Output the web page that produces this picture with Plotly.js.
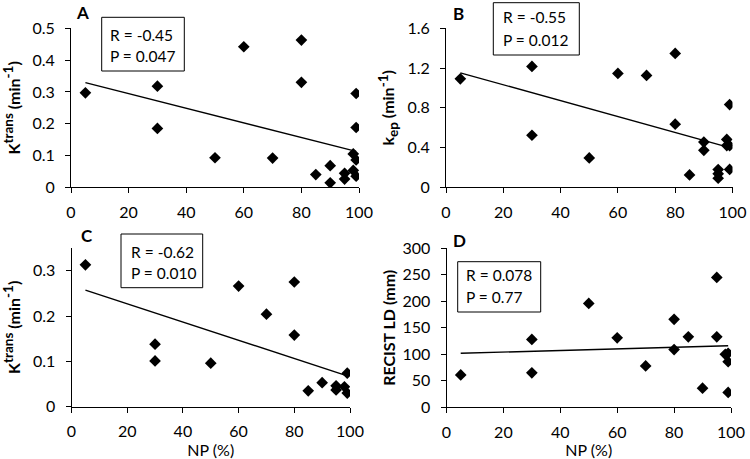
<!DOCTYPE html>
<html>
<head>
<meta charset="utf-8">
<script src="https://cdn.plot.ly/plotly-3.0.1.min.js"></script>
<style>html,body{margin:0;padding:0;background:#fff;}#chart{width:750px;height:459px;}</style>
</head>
<body>
<div id="chart"></div>
<script>
// ---- data ----
const npA = [5,30,30,50,60,70,80,80,85,90,90,95,95,98,98,99,99,99,99];
const ktransA = [0.297,0.318,0.185,0.093,0.442,0.092,0.463,0.330,0.040,0.068,0.014,0.044,0.026,0.105,0.053,0.295,0.188,0.086,0.035];
const fitXA = [5,99];
const fitYA = [0.329,0.113];

const npB = [5,30,30,50,60,70,80,80,85,90,90,95,95,95,98,98,99,99,99];
const kepB = [1.092,1.216,0.524,0.296,1.146,1.126,1.347,0.635,0.125,0.455,0.372,0.178,0.136,0.091,0.482,0.420,0.418,0.832,0.180];
const fitXB = [5,99];
const fitYB = [1.152,0.400];

const npC = [5,30,30,50,60,70,80,80,85,90,95,95,98,99,99];
const ktransC = [0.313,0.138,0.101,0.096,0.266,0.204,0.275,0.158,0.035,0.053,0.046,0.037,0.044,0.074,0.030];
const fitXC = [5,99];
const fitYC = [0.257,0.068];

const npD = [5,30,30,50,60,70,80,80,85,90,95,95,98,99,99,99];
const recistD = [61,128,65,196,131,78,166,109,133,36,245,133,100,102,86,28];
const fitXD = [5,99];
const fitYD = [102,116];

const panelLetters = ['A','B','C','D'];
const statR = ['R = -0.45','R = -0.55','R = -0.62','R = 0.078'];
const statP = ['P = 0.047','P = 0.012','P = 0.010','P = 0.77'];
const S = t => '<span style="font-size:13.5px">' + t + '</span>';
const yTitles = [
  'K<sup>' + S('trans') + '</sup> (min<sup>' + S('-1') + '</sup>)',
  'k<sub>' + S('ep') + '</sub> (min<sup>' + S('-1') + '</sup>)',
  'K<sup>' + S('trans') + '</sup> (min<sup>' + S('-1') + '</sup>)',
  'RECIST LD (mm)'
];
const xTitle = 'NP (%)';

// ---- layout helpers ----
const W = 750, H = 459;
const px = v => v / W;
const py = v => 1 - v / H;
const FONT = 'Lato, "Open Sans", sans-serif';

const sets = [[npA,ktransA,fitXA,fitYA],[npB,kepB,fitXB,fitYB],[npC,ktransC,fitXC,fitYC],[npD,recistD,fitXD,fitYD]];
const traces = [];
sets.forEach((s,i) => {
  const xa = i===0 ? 'x' : 'x'+(i+1);
  const ya = i===0 ? 'y' : 'y'+(i+1);
  traces.push({x:s[2], y:s[3], xaxis:xa, yaxis:ya, mode:'lines', type:'scatter',
    line:{color:'#000', width:1.4}, hoverinfo:'skip', showlegend:false});
  traces.push({x:s[0], y:s[1], xaxis:xa, yaxis:ya, mode:'markers', type:'scatter',
    marker:{symbol:'diamond', size:9, color:'#000'}, showlegend:false});
});

function xAxis(dom, anchor, showTitle){
  return {domain:dom, anchor:anchor, range:[0,100], tickvals:[0,20,40,60,80,100],
    showline:true, linecolor:'#000', linewidth:1, showgrid:false, zeroline:false,
    ticks:'outside', ticklen:5, tickcolor:'#000', tickwidth:1,
    tickfont:{family:FONT, size:16, color:'#000'}, ticklabelstandoff:5,
    title: showTitle ? {text:xTitle, font:{family:FONT, size:16, color:'#000'}, standoff:3} : {text:''},
    fixedrange:true};
}
function yAxis(dom, anchor, range, dtick, title, standoff){
  return {domain:dom, anchor:anchor, range:range, dtick:dtick, tick0:0,
    showline:true, linecolor:'#000', linewidth:1, showgrid:false, zeroline:false,
    ticks:'outside', ticklen:5, tickcolor:'#000', tickwidth:1,
    tickfont:{family:FONT, size:16, color:'#000'}, ticklabelstandoff:7,
    title:{text:title, font:{family:FONT, size:16, color:'#000', weight:'bold'}, standoff:standoff},
    fixedrange:true};
}

// box / text positions in pixels
const boxes = [[101.7,17.3,184.3,71],[493.3,2.7,579.3,55],[121,234,202.7,287.7],[457.7,261.7,540.7,312]];
const textPos = [[108,34.7,56],[501,17.3,40],[129,251.7,273.3],[464.5,275,296.5]];
const letterPos = [[82.7,12.5],[458.3,13.5],[86.7,235],[459.3,240]];

const shapes = boxes.map(b => ({type:'rect', xref:'paper', yref:'paper',
  x0:px(b[0]), x1:px(b[2]), y0:py(b[3]), y1:py(b[1]), line:{color:'#000', width:1}, fillcolor:'#fff', layer:'above'}));
const annotations = [];
textPos.forEach((t,i) => {
  annotations.push({xref:'paper', yref:'paper', x:px(t[0]), y:py(t[1]), xanchor:'left', yanchor:'middle',
    text:statR[i], showarrow:false, font:{family:FONT, size:15.5, color:'#000'}});
  annotations.push({xref:'paper', yref:'paper', x:px(t[0]), y:py(t[2]), xanchor:'left', yanchor:'middle',
    text:statP[i], showarrow:false, font:{family:FONT, size:15.5, color:'#000'}});
});
letterPos.forEach((l,i) => {
  annotations.push({xref:'paper', yref:'paper', x:px(l[0]), y:py(l[1]), xanchor:'center', yanchor:'middle',
    text:'<b>'+panelLetters[i]+'</b>', showarrow:false, font:{family:FONT, size:17, color:'#000'}});
});

const layout = {
  width:W, height:H, margin:{l:0,r:0,t:0,b:0}, paper_bgcolor:'#fff', plot_bgcolor:'rgba(0,0,0,0)',
  showlegend:false, font:{family:FONT, color:'#000'},
  xaxis: xAxis([px(71), px(359)], 'y', false),
  yaxis: yAxis([py(187.3), py(28.3)], 'x', [0,0.5], 0.1, yTitles[0], 11),
  xaxis2: xAxis([px(446), px(732.5)], 'y2', false),
  yaxis2: yAxis([py(187.3), py(28.3)], 'x2', [0,1.6], 0.4, yTitles[1], 8),
  xaxis3: xAxis([px(71.5), px(350)], 'y3', true),
  yaxis3: yAxis([py(406.7), py(248)], 'x3', [0,0.35], 0.1, yTitles[2], 11),
  xaxis4: xAxis([px(446.5), px(731)], 'y4', true),
  yaxis4: yAxis([py(407.3), py(248.3)], 'x4', [0,300], 50, yTitles[3], 2),
  shapes: shapes,
  annotations: annotations
};

Plotly.newPlot('chart', traces, layout, {displayModeBar:false, staticPlot:true});
</script>
</body>
</html>
